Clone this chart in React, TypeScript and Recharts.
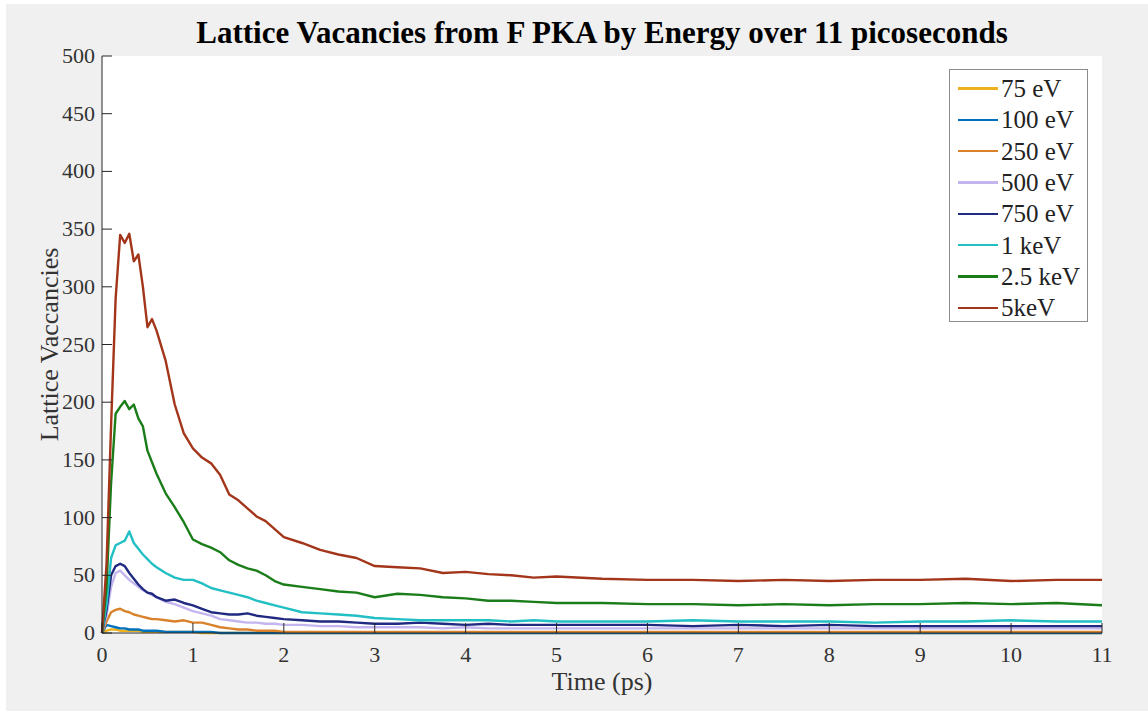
import React from "react";
import { LineChart, Line, XAxis, YAxis, CartesianGrid, Label } from "recharts";

const TIME = [
  0, 0.05, 0.1, 0.15, 0.2, 0.25, 0.3, 0.35, 0.4, 0.45, 0.5, 0.55, 0.6,
  0.7, 0.8, 0.9, 1.0, 1.1, 1.2, 1.3, 1.4, 1.5, 1.6, 1.7, 1.8, 1.9, 2.0,
  2.2, 2.4, 2.6, 2.8, 3.0,
  3.25, 3.5, 3.75, 4.0, 4.25, 4.5, 4.75, 5.0,
  5.5, 6.0, 6.5, 7.0, 7.5, 8.0, 8.5, 9.0, 9.5, 10.0, 10.5, 11.0,
];

const EV75 = [
  0, 2, 3, 3, 2, 2, 2, 2, 2, 1, 1, 1, 1,
  1, 1, 1, 1, 0, 0, 0, 0, 0, 0, 0, 0, 0, 0,
  0, 0, 0, 0, 0,
  0, 0, 0, 0, 0, 0, 0, 0,
  0, 0, 0, 0, 0, 0, 0, 0, 0, 0, 0, 0,
];
const EV100 = [
  0, 7, 6, 5, 4, 4, 3, 3, 3, 2, 2, 2, 2,
  1, 1, 1, 1, 1, 1, 0, 0, 0, 0, 0, 0, 0, 0,
  0, 0, 0, 0, 0,
  0, 0, 0, 0, 0, 0, 0, 0,
  0, 0, 0, 0, 0, 0, 0, 0, 0, 0, 0, 0,
];
const EV250 = [
  0, 10, 18, 20, 21, 19, 18, 16, 15, 14, 13, 12, 12,
  11, 10, 11, 9, 9, 7, 5, 4, 3, 3, 2, 2, 2, 1,
  1, 1, 1, 1, 1,
  1, 1, 1, 1, 1, 1, 1, 1,
  1, 1, 1, 1, 1, 1, 1, 1, 1, 1, 1, 1,
];
const EV500 = [
  0, 15, 40, 52, 54, 50, 46, 43, 40, 37, 35, 33, 31,
  27, 25, 22, 19, 17, 15, 12, 11, 10, 9, 9, 8, 8, 7,
  7, 6, 6, 5, 5,
  5, 5, 4, 5, 4, 4, 4, 4,
  4, 4, 4, 4, 4, 4, 4, 4, 4, 4, 4, 4,
];
const EV750 = [
  0, 20, 50, 58, 60, 58, 52, 47, 42, 38, 35, 34, 31,
  28, 29, 26, 24, 21, 18, 17, 16, 16, 17, 15, 14, 13, 12,
  11, 10, 10, 9, 8,
  8, 9, 8, 7, 8, 7, 7, 7,
  7, 7, 6, 7, 6, 7, 6, 6, 6, 6, 6, 6,
];
const KEV1 = [
  0, 25, 65, 76, 78, 80, 88, 78, 73, 68, 64, 60, 57,
  52, 48, 46, 46, 43, 39, 37, 35, 33, 31, 28, 26, 24, 22,
  18, 17, 16, 15, 13,
  12, 11, 11, 11, 11, 10, 11, 10,
  10, 10, 11, 10, 10, 10, 9, 10, 10, 11, 10, 10,
];
const KEV2_5 = [
  0, 40, 130, 190, 196, 201, 194, 198, 186, 179, 158, 148, 138,
  121, 109, 96, 81, 77, 74, 70, 63, 59, 56, 54, 50, 45, 42,
  40, 38, 36, 35, 31,
  34, 33, 31, 30, 28, 28, 27, 26,
  26, 25, 25, 24, 25, 24, 25, 25, 26, 25, 26, 24,
];
const KEV5 = [
  0, 60, 180, 290, 345, 338, 346, 322, 328, 300, 265, 272, 262,
  236, 198, 173, 160, 152, 147, 137, 120, 115, 108, 101, 97, 90, 83,
  78, 72, 68, 65, 58,
  57, 56, 52, 53, 51, 50, 48, 49,
  47, 46, 46, 45, 46, 45, 46, 46, 47, 45, 46, 46,
];

const X_TICKS = [0, 1, 2, 3, 4, 5, 6, 7, 8, 9, 10, 11];
const Y_TICKS = [0, 50, 100, 150, 200, 250, 300, 350, 400, 450, 500];

const SERIES = [
  { key: "ev75", name: "75 eV", values: EV75, color: "#EDB120" },
  { key: "ev100", name: "100 eV", values: EV100, color: "#0072BD" },
  { key: "ev250", name: "250 eV", values: EV250, color: "#D9822B" },
  { key: "ev500", name: "500 eV", values: EV500, color: "#C3B6EE" },
  { key: "ev750", name: "750 eV", values: EV750, color: "#1F2A80" },
  { key: "kev1", name: "1 keV", values: KEV1, color: "#22BFC4" },
  { key: "kev2_5", name: "2.5 keV", values: KEV2_5, color: "#1A7D1A" },
  { key: "kev5", name: "5keV", values: KEV5, color: "#A3361A" },
];

const data = TIME.map((t, i) => {
  const row: Record<string, number> = { t };
  SERIES.forEach((s) => {
    row[s.key] = s.values[i];
  });
  return row;
});

const FONT = '"Liberation Serif", "Times New Roman", serif';
const AXIS = "#262626";
const TICK_LEN = 10;

function BottomTick({ x, y, payload }: any) {
  return (
    <g>
      <line x1={x} y1={y} x2={x} y2={y - TICK_LEN} stroke={AXIS} strokeWidth={1} />
      <text x={x} y={y + 29} textAnchor="middle" fontFamily={FONT} fontSize={22} fill="#333">
        {payload.value}
      </text>
    </g>
  );
}

function TopTick({ x, y }: any) {
  return <line x1={x} y1={y} x2={x} y2={y + TICK_LEN} stroke={AXIS} strokeWidth={1} />;
}

function LeftTick({ x, y, payload }: any) {
  return (
    <g>
      <line x1={x} y1={y} x2={x + TICK_LEN} y2={y} stroke={AXIS} strokeWidth={1} />
      <text x={x - 7} y={y + 7} textAnchor="end" fontFamily={FONT} fontSize={22} fill="#333">
        {payload.value}
      </text>
    </g>
  );
}

function RightTick({ x, y }: any) {
  return <line x1={x} y1={y} x2={x - TICK_LEN} y2={y} stroke={AXIS} strokeWidth={1} />;
}

function YTitle({ viewBox }: any) {
  const cx = 49;
  const cy = viewBox.y + viewBox.height / 2;
  return (
    <text
      x={cx}
      y={cy}
      transform={`rotate(-90 ${cx} ${cy})`}
      textAnchor="middle"
      dominantBaseline="central"
      fontFamily={FONT}
      fontSize={26}
      fill="#333"
    >
      Lattice Vaccancies
    </text>
  );
}

function XTitle({ viewBox }: any) {
  const cx = viewBox.x + viewBox.width / 2;
  return (
    <text x={cx} y={690} textAnchor="middle" fontFamily={FONT} fontSize={26} fill="#333">
      Time (ps)
    </text>
  );
}

function LegendBox() {
  return (
    <div
      style={{
        position: "absolute",
        left: 949,
        top: 69,
        width: 139,
        height: 253,
        background: "#fff",
        border: "1px solid #8c8c8c",
        boxSizing: "border-box",
        paddingTop: 3,
        fontFamily: FONT,
        fontSize: 25,
        color: "#222",
      }}
    >
      {SERIES.map((s) => (
        <div key={s.key} style={{ display: "flex", alignItems: "center", height: 31.3 }}>
          <div style={{ width: 40, height: 2.4, background: s.color, marginLeft: 8, marginRight: 3 }} />
          <span style={{ lineHeight: "31px", whiteSpace: "nowrap" }}>{s.name}</span>
        </div>
      ))}
    </div>
  );
}

export default function App() {
  return (
    <div style={{ position: "absolute", left: 0, top: 0, width: 1148, height: 711, background: "#fff" }}>
      <div style={{ position: "absolute", left: 6, top: 4, width: 1142, height: 707, background: "#f0f0f0" }} />
      <div
        style={{
          position: "absolute",
          left: 102,
          width: 1000,
          top: 16,
          textAlign: "center",
          fontFamily: FONT,
          fontWeight: "bold",
          fontSize: 31,
          lineHeight: "34px",
          color: "#000",
          whiteSpace: "nowrap",
        }}
      >
        Lattice Vacancies from F PKA by Energy over 11 picoseconds
      </div>
      <div style={{ position: "absolute", left: 0, top: 0 }}>
        <LineChart
          width={1148}
          height={711}
          data={data}
          margin={{ top: 56, right: 46, left: 52, bottom: 48 }}
        >
          <CartesianGrid horizontal={false} vertical={false} fill="#ffffff" stroke="none" />
          <XAxis
            dataKey="t"
            type="number"
            domain={[0, 11]}
            ticks={X_TICKS}
            interval={0}
            height={30}
            tickSize={0}
            tickMargin={0}
            tickLine={false}
            stroke={AXIS}
            tick={<BottomTick />}
          >
            <Label content={<XTitle />} />
          </XAxis>
          <XAxis
            xAxisId="top"
            orientation="top"
            dataKey="t"
            type="number"
            domain={[0, 11]}
            ticks={X_TICKS}
            interval={0}
            height={0}
            tickSize={0}
            tickMargin={0}
            tickLine={false}
            stroke={AXIS}
            tick={<TopTick />}
          />
          <YAxis
            type="number"
            domain={[0, 500]}
            ticks={Y_TICKS}
            interval={0}
            width={50}
            tickSize={0}
            tickMargin={0}
            tickLine={false}
            stroke={AXIS}
            tick={<LeftTick />}
          >
            <Label content={<YTitle />} />
          </YAxis>
          <YAxis
            yAxisId="right"
            orientation="right"
            type="number"
            domain={[0, 500]}
            ticks={Y_TICKS}
            interval={0}
            width={0}
            tickSize={0}
            tickMargin={0}
            tickLine={false}
            stroke={AXIS}
            tick={<RightTick />}
          />
          {SERIES.map((s) => (
            <Line
              key={s.key}
              type="linear"
              dataKey={s.key}
              name={s.name}
              stroke={s.color}
              strokeWidth={2.4}
              strokeLinejoin="round"
              dot={false}
              activeDot={false}
              isAnimationActive={false}
            />
          ))}
        </LineChart>
      </div>
      <LegendBox />
    </div>
  );
}
